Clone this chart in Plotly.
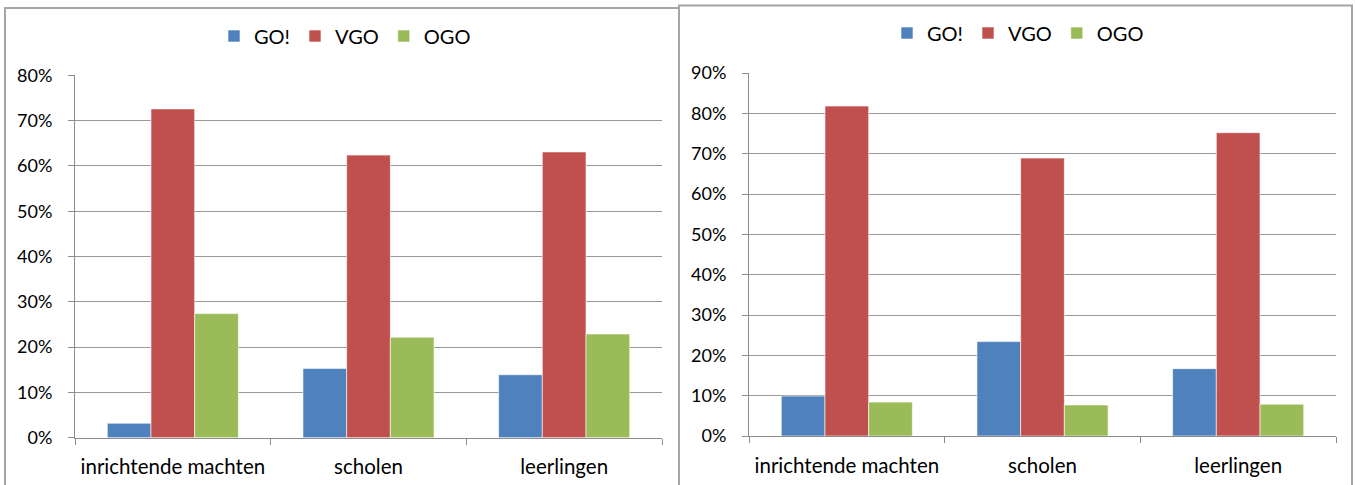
import plotly.graph_objects as go

W, H = 1355, 485

categories = ["inrichtende machten", "scholen", "leerlingen"]
series_names = ["GO!", "VGO", "OGO"]
colors = ["#4F81BD", "#C0504D", "#9BBB59"]

# left chart values (fractions)
left_go = [0.032, 0.153, 0.139]
left_vgo = [0.726, 0.624, 0.631]
left_ogo = [0.274, 0.222, 0.229]

# right chart values (fractions)
right_go = [0.099, 0.234, 0.167]
right_vgo = [0.818, 0.689, 0.752]
right_ogo = [0.084, 0.077, 0.079]

left_ticks = [0, 0.1, 0.2, 0.3, 0.4, 0.5, 0.6, 0.7, 0.8]
right_ticks = [0, 0.1, 0.2, 0.3, 0.4, 0.5, 0.6, 0.7, 0.8, 0.9]

FONT = "Lato"
grid_col = "#989898"
axis_col = "#8C8C8C"


def px_x(p):
    return p / W


def px_y(p):
    return 1 - p / H


fig = go.Figure()

for vals, name, col in zip([left_go, left_vgo, left_ogo], series_names, colors):
    fig.add_trace(go.Bar(x=categories, y=vals, name=name, marker_color=col,
                         marker_line=dict(color="rgba(255,255,255,0.6)", width=1),
                         xaxis="x", yaxis="y", legend="legend"))

for vals, name, col in zip([right_go, right_vgo, right_ogo], series_names, colors):
    fig.add_trace(go.Bar(x=categories, y=vals, name=name, marker_color=col,
                         marker_line=dict(color="rgba(255,255,255,0.6)", width=1),
                         xaxis="x2", yaxis="y2", legend="legend2"))

xcommon = dict(type="category", showgrid=False, showline=True, linecolor=axis_col,
               linewidth=1, ticks="outside", tickson="boundaries", ticklen=6,
               tickcolor=axis_col, tickfont=dict(family=FONT, size=20.5, color="#000"),
               ticklabelstandoff=11, fixedrange=True, automargin=False)
ycommon = dict(showgrid=True, gridcolor=grid_col, gridwidth=1, showline=True,
               linecolor=axis_col, linewidth=1, ticks="outside", ticklen=6,
               tickcolor=axis_col, tickformat=".0%", zeroline=False,
               tickfont=dict(family=FONT, size=18, color="#000"),
               ticklabelstandoff=12, fixedrange=True, automargin=False)

legend_common = dict(orientation="h", xanchor="center", yanchor="middle",
                     xref="container", yref="container",
                     font=dict(family=FONT, size=20, color="#000"),
                     bgcolor="rgba(0,0,0,0)", itemwidth=30, tracegroupgap=0)

fig.update_layout(
    width=W, height=H,
    margin=dict(l=0, r=0, t=0, b=0, autoexpand=False),
    paper_bgcolor="white", plot_bgcolor="white",
    barmode="group", bargap=0.33, bargroupgap=0,
    xaxis=dict(domain=[px_x(75), px_x(662)], anchor="y", **xcommon),
    yaxis=dict(domain=[px_y(437.7), px_y(75.4)], anchor="x", range=[0, 0.8],
               tickvals=left_ticks, **ycommon),
    xaxis2=dict(domain=[px_x(749), px_x(1336)], anchor="y2", **xcommon),
    yaxis2=dict(domain=[px_y(436), px_y(73)], anchor="x2", range=[0, 0.9],
                tickvals=right_ticks, **ycommon),
    legend=dict(x=px_x(345), y=px_y(36), **legend_common),
    legend2=dict(x=px_x(1018), y=px_y(33), **legend_common),
    shapes=[
        dict(type="rect", xref="paper", yref="paper",
             x0=px_x(5), x1=px_x(679), y0=-0.2, y1=px_y(8),
             line=dict(color="#A6A6A6", width=2), layer="below"),
        dict(type="rect", xref="paper", yref="paper",
             x0=px_x(679), x1=px_x(1352), y0=-0.2, y1=px_y(5.5),
             line=dict(color="#A6A6A6", width=2), layer="below"),
    ],
)

fig.write_html("out.html")
